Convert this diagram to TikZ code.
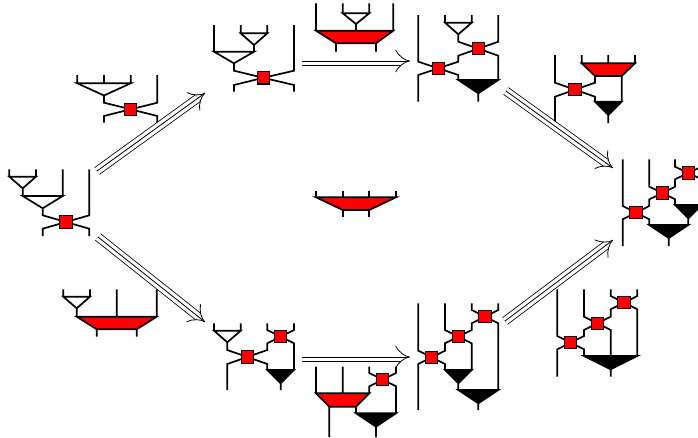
\documentclass[tikz,border=0pt]{standalone}
\usetikzlibrary{arrows.meta,positioning}
\pgfdeclarelayer{wires}
\pgfsetlayers{wires,main}
\tikzset{
  wire/.style={line width=1.7pt},
  gate/.style={draw, fill=red, line width=1.1pt, minimum size=12.3pt, inner sep=0pt},
  trip/.style={double, double distance=7.4pt, line width=0.8pt, -{Implies}},
  mid/.style={line width=0.8pt, shorten >=3pt},
}
\begin{document}
\begin{tikzpicture}[x=1pt,y=-1pt]
\useasboundingbox (0,0) rectangle (698,437);
\clip (0,0) rectangle (698,437);

% boxes
\node[gate] (a1) at (130.7,109.3) {};
\node[gate] (b1) at (66,222) {};
\node[gate] (c1) at (263.3,77.8) {};
\node[gate] (e1) at (438.3,68.3) {};
\node[gate] (e2) at (478.3,48.7) {};
\node[gate] (f1) at (575,89.7) {};
\node[gate] (g1) at (636,212.7) {};
\node[gate] (g2) at (662.7,193) {};
\node[gate] (g3) at (688.3,173) {};
\node[gate] (j1) at (247.3,357) {};
\node[gate] (j2) at (280.7,336.7) {};
\node[gate] (k1) at (382.7,379.7) {};
\node[gate] (l1) at (431.7,357.3) {};
\node[gate] (l2) at (458.3,336.7) {};
\node[gate] (l3) at (485,316.7) {};
\node[gate] (m1) at (570.7,342.7) {};
\node[gate] (m2) at (597.3,323.3) {};
\node[gate] (m3) at (624,302.7) {};

\begin{pgfonlayer}{wires}
% A
\draw[wire] (77.3,75) -- (77.3,83.3) (104,75) -- (104,83.3) (130.7,75) -- (130.7,83.3)
  (77.3,83.3) -- (130.7,83.3) -- (104,95.5) -- cycle
  (104,95.5) -- (104,102.7) -- (a1.center) -- (104,116) -- (104,122.7)
  (157.3,75) -- (157.3,102.7) -- (a1.center) -- (157.3,116) -- (157.3,122.7);
% B
\draw[wire] (9.3,169.3) -- (9.3,176.7) (36,169.3) -- (36,176.7)
  (9.3,176.7) -- (36,176.7) -- (22.7,188.3) -- cycle
  (22.7,188.3) -- (22.7,196)
  (62.7,169.3) -- (62.7,196)
  (22.7,196) -- (62.7,196) -- (42.7,208.3) -- cycle
  (42.7,208.3) -- (42.7,215.3) -- (b1.center) -- (42.7,228.7) -- (42.7,236)
  (89.3,169.3) -- (89.3,215.3) -- (b1.center) -- (89.3,228.7) -- (89.3,236);
% C
\draw[wire] (214,25) -- (214,51.7)
  (240.7,25) -- (240.7,33.3) (267.3,25) -- (267.3,33.3)
  (240.7,33.3) -- (267.3,33.3) -- (254,45) -- cycle
  (254,45) -- (254,51.7)
  (214,51.7) -- (254,51.7) -- (234,63.3) -- cycle
  (234,63.3) -- (234,70.7) -- (c1.center) -- (234,85) -- (234,91.7)
  (294,25) -- (294,70.7) -- (c1.center) -- (294,85) -- (294,91.7);
% D
\draw[wire] (316,3.3) -- (316,30.7) (393.3,3.3) -- (393.3,30.7)
  (342.7,3.3) -- (342.7,13.3) (369.3,3.3) -- (369.3,13.3)
  (342.7,13.3) -- (369.3,13.3) -- (356,24) -- cycle
  (356,24) -- (356,30.7)
  (336,43.3) -- (336,51.7) (376,43.3) -- (376,51.7);
\draw[wire, fill=red] (316,30.7) -- (393.3,30.7) -- (376,43.3) -- (336,43.3) -- cycle;
% E
\draw[wire] (418.3,15) -- (418.3,61.7) -- (e1.center) -- (418.3,75) -- (418.3,101.7)
  (445,15) -- (445,22.7) (471.7,15) -- (471.7,22.7)
  (445,22.7) -- (471.7,22.7) -- (458.3,34.3) -- cycle
  (458.3,34.3) -- (458.3,41.7) -- (e2.center) -- (458.3,55.7) -- (458.3,61.7) -- (e1.center) -- (458.3,75) -- (458.3,80)
  (498.3,15) -- (498.3,41.7) -- (e2.center) -- (498.3,55.7) -- (498.3,80)
  (478.3,93.3) -- (478.3,101.7);
\draw[wire, fill=black] (458.3,80) -- (498.3,80) -- (478.3,93.3) -- cycle;
% F
\draw[wire] (555,55) -- (555,82.7) -- (f1.center) -- (555,96.7) -- (555,123)
  (581.7,55) -- (581.7,63.3) (608.3,55) -- (608.3,63.3) (635,55) -- (635,63.3)
  (595,76) -- (595,82.7) -- (f1.center) -- (595,96.7) -- (595,101.7)
  (621.7,76) -- (621.7,101.7)
  (608.3,115) -- (608.3,123);
\draw[wire, fill=red] (581.7,63.3) -- (635,63.3) -- (621.7,76) -- (595,76) -- cycle;
\draw[wire, fill=black] (595,101.7) -- (621.7,101.7) -- (608.3,115) -- cycle;
% G
\draw[wire] (622.7,159.3) -- (622.7,206) -- (g1.center) -- (622.7,219.3) -- (622.7,246)
  (649.3,159.3) -- (649.3,186.7) -- (g2.center) -- (649.3,199.3) -- (649.3,206) -- (g1.center) -- (649.3,219.3) -- (649.3,225)
  (675,159.3) -- (675,166.7) -- (g3.center) -- (675,179.3) -- (675,186.7) -- (g2.center) -- (675,199.3) -- (675,205)
  (701.7,159.3) -- (701.7,166.7) -- (g3.center) -- (701.7,179.3) -- (701.7,205)
  (688.3,218.3) -- (688.3,225)
  (668.7,238) -- (668.7,246);
\draw[wire, fill=black] (675,205) -- (701.7,205) -- (688.3,218.3) -- cycle;
\draw[wire, fill=black] (649.3,225) -- (688.3,225) -- (668.7,238) -- cycle;
% H
\draw[wire] (63.3,289.3) -- (63.3,296.7) (90,289.3) -- (90,296.7)
  (63.3,296.7) -- (90,296.7) -- (76.7,308.3) -- cycle
  (76.7,308.3) -- (76.7,316.7)
  (116.7,289.3) -- (116.7,316.7) (156.7,289.3) -- (156.7,316.7)
  (96.7,329.3) -- (96.7,336.7) (136.7,329.3) -- (136.7,336.7);
\draw[wire, fill=red] (76.7,316.7) -- (156.7,316.7) -- (136.7,329.3) -- (96.7,329.3) -- cycle;
% I
\draw[wire] (316,190.7) -- (316,197.3) (342.7,190.7) -- (342.7,197.3)
  (369.3,190.7) -- (369.3,197.3) (396,190.7) -- (396,197.3)
  (342.7,210) -- (342.7,217.3) (369.3,210) -- (369.3,217.3);
\draw[wire, fill=red] (316,197.3) -- (396,197.3) -- (369.3,210) -- (342.7,210) -- cycle;
% J
\draw[wire] (214,323.3) -- (214,330.7) (240.7,323.3) -- (240.7,330.7)
  (214,330.7) -- (240.7,330.7) -- (227.3,342.3) -- cycle
  (227.3,342.3) -- (227.3,350) -- (j1.center) -- (227.3,364) -- (227.3,390)
  (267.3,323.3) -- (267.3,330) -- (j2.center) -- (267.3,343.3) -- (267.3,350) -- (j1.center) -- (267.3,364) -- (267.3,370)
  (294,323.3) -- (294,330) -- (j2.center) -- (294,343.3) -- (294,370)
  (280.7,383.3) -- (280.7,390);
\draw[wire, fill=black] (267.3,370) -- (294,370) -- (280.7,383.3) -- cycle;
% K
\draw[wire] (316,366.7) -- (316,393.3) (342.7,366.7) -- (342.7,393.3)
  (369.3,366.7) -- (369.3,373) -- (k1.center) -- (369.3,386.3) -- (369.3,393.3)
  (396,366.7) -- (396,373) -- (k1.center) -- (396,386.3) -- (396,413.3)
  (329.3,406.7) -- (329.3,437) (356,406.7) -- (356,413.3)
  (376,426.7) -- (376,437);
\draw[wire, fill=red] (316,393.3) -- (369.3,393.3) -- (356,406.7) -- (329.3,406.7) -- cycle;
\draw[wire, fill=black] (356,413.3) -- (396,413.3) -- (376,426.7) -- cycle;
% L
\draw[wire] (418.3,303.3) -- (418.3,350.7) -- (l1.center) -- (418.3,364) -- (418.3,410)
  (445,303.3) -- (445,330) -- (l2.center) -- (445,343.3) -- (445,350.7) -- (l1.center) -- (445,364) -- (445,370)
  (471.7,303.3) -- (471.7,310) -- (l3.center) -- (471.7,323.3) -- (471.7,330) -- (l2.center) -- (471.7,343.3) -- (471.7,370)
  (498.3,303.3) -- (498.3,310) -- (l3.center) -- (498.3,323.3) -- (498.3,390)
  (458.3,383.3) -- (458.3,390)
  (478.3,403.3) -- (478.3,410);
\draw[wire, fill=black] (445,370) -- (471.7,370) -- (458.3,383.3) -- cycle;
\draw[wire, fill=black] (458.3,390) -- (498.3,390) -- (478.3,403.3) -- cycle;
% M
\draw[wire] (557.3,289.3) -- (557.3,336) -- (m1.center) -- (557.3,349.3) -- (557.3,376.7)
  (584,289.3) -- (584,316.7) -- (m2.center) -- (584,330) -- (584,336) -- (m1.center) -- (584,349.3) -- (584,356)
  (610.7,289.3) -- (610.7,296) -- (m3.center) -- (610.7,309.3) -- (610.7,316.7) -- (m2.center) -- (610.7,330) -- (610.7,376.7)
  (637.3,289.3) -- (637.3,296) -- (m3.center) -- (637.3,309.3) -- (637.3,356);
\draw[wire, fill=black] (584,356) -- (637.3,356) -- (610.7,369.3) -- cycle;
\end{pgfonlayer}

% arrows
\coordinate (bc0) at (97,171);  \coordinate (bc1) at (205,93);
\coordinate (bj0) at (98,237);  \coordinate (bj1) at (205,322);
\coordinate (cd0) at (302,61);  \coordinate (cd1) at (410,61);
\coordinate (jk0) at (302,357); \coordinate (jk1) at (410,357);
\coordinate (eg0) at (506,91);  \coordinate (eg1) at (613,168);
\coordinate (lg0) at (505,321); \coordinate (lg1) at (613,240);
\foreach \s/\t in {bc0/bc1, bj0/bj1, cd0/cd1, jk0/jk1, eg0/eg1, lg0/lg1}{
  \draw[trip] (\s) -- (\t);
  \draw[mid] (\s) -- (\t);
}
\end{tikzpicture}
\end{document}
